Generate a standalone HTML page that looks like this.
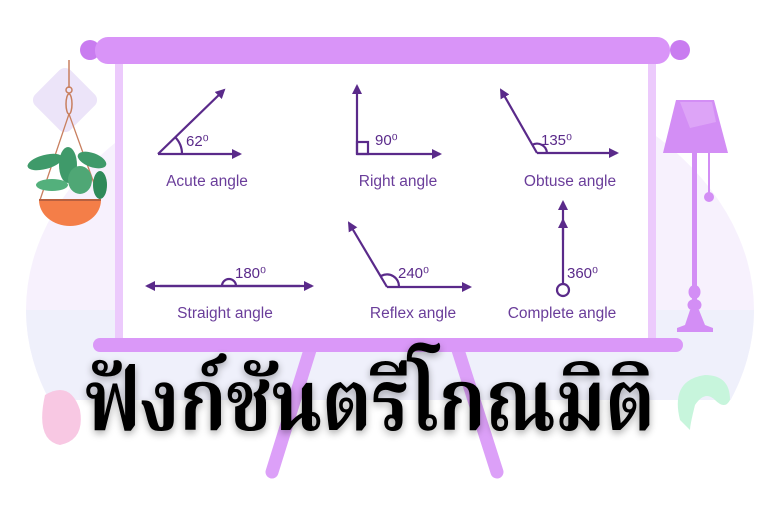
<!DOCTYPE html>
<html><head><meta charset="utf-8"><style>
html,body{margin:0;padding:0;background:#fff;width:768px;height:512px;overflow:hidden}
svg{display:block}
.l{font-family:"Liberation Sans",sans-serif;font-size:15.5px;fill:#6a3d9a;text-anchor:middle}
.d{font-family:"Liberation Sans",sans-serif;font-size:15px;fill:#5a2a8a}
</style></head><body>
<svg width="768" height="512" viewBox="0 0 768 512" xmlns="http://www.w3.org/2000/svg">
<defs>
<marker id="a" markerWidth="10" markerHeight="10" refX="8" refY="5" orient="auto" markerUnits="userSpaceOnUse">
<path d="M0,0 L10,5 L0,10 Z" fill="#5a2a8a"/></marker>
<filter id="sh" x="-10%" y="-30%" width="120%" height="160%"><feGaussianBlur in="SourceAlpha" stdDeviation="4"/><feOffset dy="3"/><feComponentTransfer><feFuncA type="linear" slope="0.35"/></feComponentTransfer><feMerge><feMergeNode/><feMergeNode in="SourceGraphic"/></feMerge></filter>
<clipPath id="c"><rect x="0" y="0" width="768" height="400"/></clipPath>
</defs>
<!-- background -->
<g clip-path="url(#c)">
<ellipse cx="390" cy="310" rx="364" ry="255" fill="#f7f1fd"/>
<path d="M26,310 L754,310 A364,255 0 0 1 26,310Z" fill="#eff0fb"/>
</g>
<rect x="40" y="75" width="50" height="50" rx="8" fill="#ece4f9" transform="rotate(45 65 100)"/>
<path d="M45,395 q25,-15 35,15 q5,30 -20,35 q-25,-5 -15,-50z" fill="#f8c8e3"/>
<path d="M680,420 q-10,-40 25,-45 q25,0 25,25 q-5,10 -15,0 q-10,-10 -20,5 q-5,20 -5,25z" fill="#c7f5dc"/>
<!-- plant -->
<line x1="69" y1="60" x2="69" y2="88" stroke="#c87f5f" stroke-width="1.5"/>
<ellipse cx="69" cy="90" rx="3" ry="3" fill="none" stroke="#c87f5f" stroke-width="1.5"/>
<ellipse cx="69" cy="104" rx="3" ry="10" fill="none" stroke="#c87f5f" stroke-width="1.5"/>
<path d="M69,114 L40,200 M69,114 L100,200" stroke="#c87f5f" stroke-width="1.3" fill="none"/>
<g fill="#3f9a6a">
<ellipse cx="45" cy="162" rx="18" ry="7" transform="rotate(-15 45 162)"/>
<ellipse cx="92" cy="160" rx="15" ry="7" transform="rotate(20 92 160)"/>
<ellipse cx="68" cy="165" rx="9" ry="18"/>
<ellipse cx="100" cy="185" rx="7" ry="14" fill="#2f8a5a"/>
<ellipse cx="52" cy="185" rx="16" ry="6" fill="#53b07c"/>
<ellipse cx="80" cy="180" rx="12" ry="14" fill="#4fa775"/>
</g>
<path d="M39,200 L101,200 A31,26 0 0 1 39,200Z" fill="#f47e48"/>
<line x1="39" y1="200" x2="101" y2="200" stroke="#b86040" stroke-width="2"/>
<!-- lamp -->
<path d="M676,100 L714,100 L728,153 L663,153Z" fill="#d38ef5"/>
<path d="M680,102 L712,102 L716,122 L690,128 Z" fill="#e0aaf8" opacity="0.8"/>
<rect x="692" y="153" width="5" height="175" fill="#d38ef5"/>
<line x1="709" y1="153" x2="709" y2="195" stroke="#d38ef5" stroke-width="2"/>
<circle cx="709" cy="197" r="5" fill="#d38ef5"/>
<ellipse cx="694.5" cy="292" rx="6" ry="7" fill="#d38ef5"/>
<ellipse cx="694.5" cy="305" rx="7" ry="6" fill="#d38ef5"/>
<path d="M690,310 L699,310 L705,325 L713,328 L713,332 L677,332 L677,328 L685,325Z" fill="#d38ef5"/>
<!-- legs -->
<line x1="310" y1="350" x2="272" y2="472" stroke="#dca0f8" stroke-width="13" stroke-linecap="round"/>
<line x1="458" y1="350" x2="497" y2="472" stroke="#dca0f8" stroke-width="13" stroke-linecap="round"/>
<!-- screen -->
<rect x="115" y="60" width="541" height="282" fill="#eccafc"/>
<rect x="123" y="60" width="525" height="282" fill="#fff"/>
<rect x="93" y="338" width="590" height="14" rx="7" fill="#da98f8"/>
<circle cx="90" cy="50" r="10" fill="#c97cf0"/>
<circle cx="680" cy="50" r="10" fill="#c97cf0"/>
<rect x="95" y="37" width="575" height="27" rx="13" fill="#d994f8"/>
<!-- angles -->
<g stroke="#5a2a8a" stroke-width="2.2" fill="none">
<line x1="158" y1="154" x2="240" y2="154" marker-end="url(#a)"/>
<line x1="158" y1="154" x2="224" y2="90" marker-end="url(#a)"/>
<path d="M182,154 A24,24 0 0 0 175,137"/>
<line x1="357" y1="154" x2="440" y2="154" marker-end="url(#a)"/>
<line x1="357" y1="154" x2="357" y2="86" marker-end="url(#a)"/>
<rect x="357" y="142" width="11" height="12"/>
<line x1="537" y1="153" x2="617" y2="153" marker-end="url(#a)"/>
<line x1="537" y1="153" x2="501" y2="90" marker-end="url(#a)"/>
<path d="M547,153 A10,10 0 0 0 532,145"/>
<line x1="160" y1="286" x2="312" y2="286" marker-end="url(#a)"/>
<line x1="300" y1="286" x2="147" y2="286" marker-end="url(#a)"/>
<path d="M222,286 A7,7 0 0 1 236,286"/>
<line x1="387" y1="287" x2="470" y2="287" marker-end="url(#a)"/>
<line x1="387" y1="287" x2="349" y2="223" marker-end="url(#a)"/>
<path d="M381,276 A12,12 0 0 1 399,287"/>
<line x1="563" y1="284" x2="563" y2="202" marker-end="url(#a)"/>
<line x1="563" y1="240" x2="563" y2="220" marker-end="url(#a)"/>
<circle cx="563" cy="290" r="6"/>
</g>
<text class="d" x="186" y="146">62⁰</text>
<text class="d" x="375" y="145">90⁰</text>
<text class="d" x="541" y="145">135⁰</text>
<text class="d" x="235" y="278">180⁰</text>
<text class="d" x="398" y="278">240⁰</text>
<text class="d" x="567" y="278">360⁰</text>
<text class="l" x="207" y="186">Acute angle</text>
<text class="l" x="398" y="186">Right angle</text>
<text class="l" x="570" y="186">Obtuse angle</text>
<text class="l" x="225" y="318">Straight angle</text>
<text class="l" x="413" y="318">Reflex angle</text>
<text class="l" x="562" y="318">Complete angle</text>
<!-- title -->
<text x="85" y="430" textLength="570" lengthAdjust="spacingAndGlyphs" filter="url(#sh)" style="font-family:'Liberation Serif','Noto Serif Thai','Norasi','Loma',serif;font-weight:bold;font-size:86px;fill:#000">ฟังก์ชันตรีโกณมิติ</text>
</svg>
</body></html>
